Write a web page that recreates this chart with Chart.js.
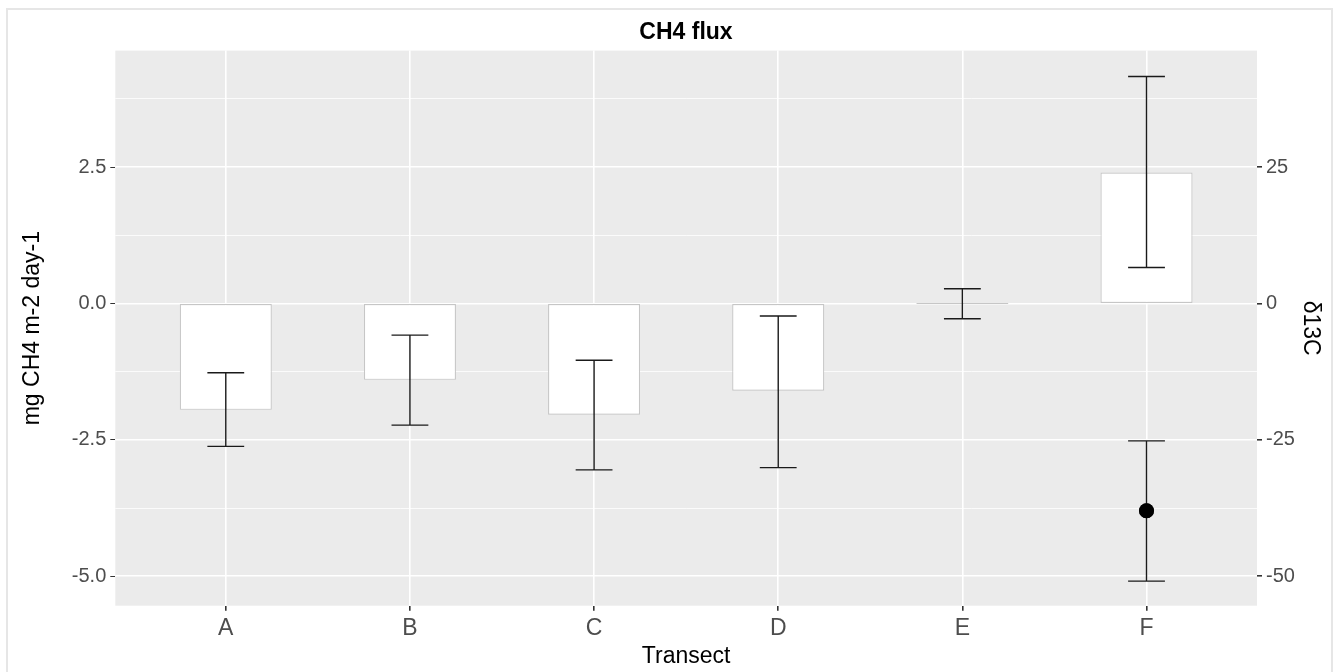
<!DOCTYPE html>
<html>
<head>
<meta charset="utf-8">
<script src="https://cdn.jsdelivr.net/npm/chart.js@4.4.1/dist/chart.umd.min.js"></script>
<style>
  html, body { margin: 0; padding: 0; background: #ffffff; overflow: hidden; }
  #wrap { position: absolute; left: 0; top: 0; width: 1338px; height: 672px; }
  #frame { position: absolute; left: 6px; top: 8px; width: 1323px; height: 700px;
           border: 2px solid #e6e6e6; pointer-events: none; }
</style>
</head>
<body>
<div id="wrap"><canvas id="c" width="1338" height="672"></canvas></div>
<div id="frame"></div>
<script>
// ---- data ----
const transects = ['A', 'B', 'C', 'D', 'E', 'F'];
const fluxMean  = [-1.95, -1.40, -2.04, -1.60, 0.00, 2.40];
const fluxLow   = [-2.62, -2.23, -3.05, -3.01, -0.28, 0.66];
const fluxHigh  = [-1.27, -0.58, -1.04, -0.23, 0.27, 4.16];
const d13cMean  = [null, null, null, null, null, -38.0];
const d13cLow   = [null, null, null, null, null, -50.9];
const d13cHigh  = [null, null, null, null, null, -25.2];
const fluxTicks = [-5.0, -2.5, 0.0, 2.5];
const d13cTicks = [-50, -25, 0, 25];
const d13cMinorTicks = [-37.5, -12.5, 12.5, 37.5];

const FONT = "'Liberation Sans', Arial, sans-serif";

const barData = transects.map((t, i) => ({ x: i + 1, y: fluxMean[i] }));
const pointData = [];
d13cMean.forEach((v, i) => { if (v !== null) pointData.push({ x: i + 1, y: v }); });

const bgPlugin = {
  id: 'panelBg',
  beforeDraw(chart) {
    const { ctx, chartArea: a } = chart;
    ctx.save();
    ctx.fillStyle = '#ebebeb';
    ctx.fillRect(a.left, a.top, a.right - a.left, a.bottom - a.top);
    ctx.restore();
  }
};

const errPlugin = {
  id: 'errorBars',
  afterDatasetsDraw(chart) {
    const { ctx } = chart;
    const xs = chart.scales.x, y = chart.scales.y, y2 = chart.scales.y2;
    ctx.save();
    ctx.strokeStyle = '#1a1a1a';
    ctx.lineWidth = 1.4;
    const draw = (i, lo, hi, sc) => {
      const xc = xs.getPixelForValue(i + 1);
      const xl = xs.getPixelForValue(i + 1 - 0.1);
      const xr = xs.getPixelForValue(i + 1 + 0.1);
      const yl = sc.getPixelForValue(lo), yh = sc.getPixelForValue(hi);
      ctx.beginPath();
      ctx.moveTo(xc, yl); ctx.lineTo(xc, yh);
      ctx.moveTo(xl, yl); ctx.lineTo(xr, yl);
      ctx.moveTo(xl, yh); ctx.lineTo(xr, yh);
      ctx.stroke();
    };
    transects.forEach((t, i) => draw(i, fluxLow[i], fluxHigh[i], y));
    transects.forEach((t, i) => { if (d13cLow[i] !== null) draw(i, d13cLow[i], d13cHigh[i], y2); });
    // redraw the point on top
    const meta = chart.getDatasetMeta(1);
    meta.data.forEach(p => p.draw(ctx));
    ctx.restore();
  }
};

const isMajor2 = v => d13cTicks.some(t => Math.abs(t - v) < 1e-6);

new Chart(document.getElementById('c'), {
  type: 'bar',
  data: {
    datasets: [
      {
        type: 'bar',
        label: 'CH4 flux',
        data: barData,
        yAxisID: 'y',
        backgroundColor: '#ffffff',
        borderColor: '#c6c6c6',
        borderWidth: 1.2,
        borderSkipped: false,
        minBarLength: 1,
        barPercentage: 0.5,
        categoryPercentage: 1.0,
        order: 2
      },
      {
        type: 'scatter',
        label: 'δ13C',
        data: pointData,
        yAxisID: 'y2',
        pointRadius: 7.5,
        pointBackgroundColor: '#000000',
        pointBorderColor: '#000000',
        pointBorderWidth: 0,
        order: 1
      }
    ]
  },
  options: {
    responsive: false,
    animation: false,
    devicePixelRatio: 1,
    layout: { padding: { left: 0, right: -34, top: 0, bottom: 0 } },
    plugins: {
      legend: { display: false },
      tooltip: { enabled: false },
      title: {
        display: true,
        text: 'CH4 flux',
        color: '#000000',
        font: { family: FONT, size: 23, weight: 'bold' },
        padding: { top: 19, bottom: 4 }
      }
    },
    scales: {
      x: {
        type: 'linear',
        min: 0.4,
        max: 6.6,
        offset: false,
        afterBuildTicks: s => { s.ticks = transects.map((t, i) => ({ value: i + 1 })); },
        afterFit: s => { s.height = 66.3; },
        ticks: {
          autoSkip: false,
          maxRotation: 0,
          padding: 4,
          color: '#4d4d4d',
          font: { family: FONT, size: 23 },
          callback: v => transects[Math.round(v) - 1]
        },
        grid: { color: '#ffffff', lineWidth: 1.6, tickColor: '#333333', tickLength: 5, offset: false },
        border: { display: false },
        title: {
          display: true,
          text: 'Transect',
          color: '#000000',
          font: { family: FONT, size: 23 },
          padding: { top: 0, bottom: 2 }
        }
      },
      y: {
        type: 'linear',
        position: 'left',
        min: -5.541,
        max: 4.636,
        afterBuildTicks: s => { s.ticks = fluxTicks.map(v => ({ value: v })); },
        afterFit: s => { s.width = 115.3; },
        ticks: {
          padding: 4,
          color: '#4d4d4d',
          font: { family: FONT, size: 20 },
          callback: v => v.toFixed(1)
        },
        grid: { drawOnChartArea: false, tickColor: '#333333', tickLength: 5 },
        border: { display: false },
        title: {
          display: true,
          text: 'mg CH4 m-2 day-1',
          color: '#000000',
          font: { family: FONT, size: 23 },
          padding: { top: 19, bottom: 0 }
        }
      },
      y2: {
        type: 'linear',
        position: 'right',
        min: -55.41,
        max: 46.36,
        afterBuildTicks: s => {
          s.ticks = d13cTicks.concat(d13cMinorTicks).sort((a, b) => a - b).map(v => ({ value: v }));
        },
        afterFit: s => { s.width = 115; },
        ticks: {
          autoSkip: false,
          padding: 4,
          color: '#4d4d4d',
          font: { family: FONT, size: 20 },
          callback: v => (isMajor2(v) ? String(v) : '')
        },
        grid: {
          color: '#ffffff',
          lineWidth: c => (c.tick && isMajor2(c.tick.value) ? 1.6 : 0.8),
          tickColor: c => (c.tick && isMajor2(c.tick.value) ? '#333333' : 'rgba(0,0,0,0)'),
          tickLength: 5
        },
        border: { display: false },
        title: {
          display: true,
          text: 'δ13C',
          color: '#000000',
          font: { family: FONT, size: 23 },
          padding: { top: 48, bottom: 0 }
        }
      }
    }
  },
  plugins: [bgPlugin, errPlugin]
});
</script>
</body>
</html>
